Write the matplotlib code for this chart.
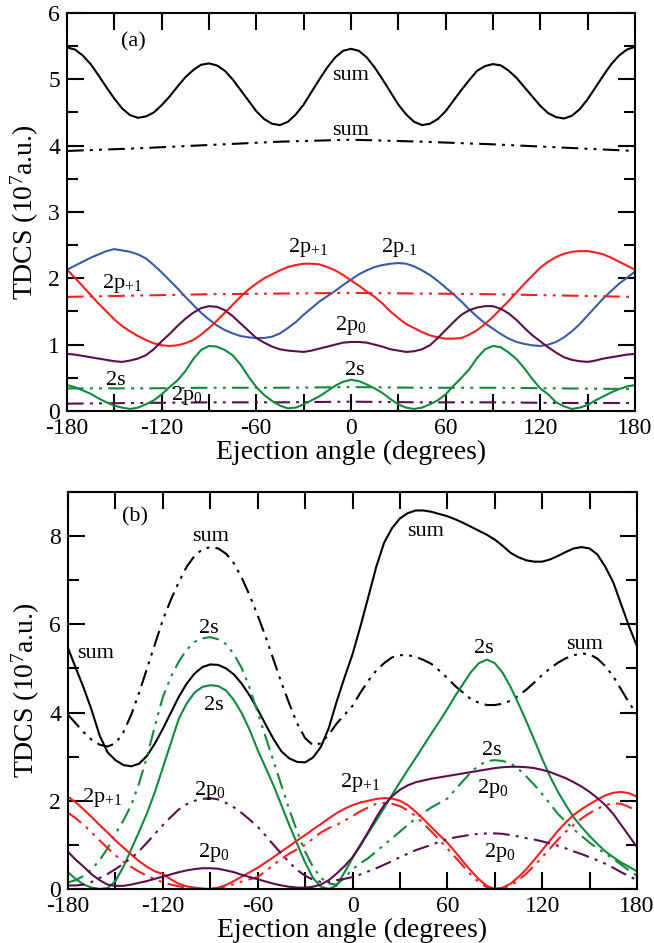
import matplotlib
matplotlib.use("Agg")
import matplotlib.pyplot as plt
from matplotlib.ticker import MultipleLocator

plt.rcParams["font.family"] = "Liberation Serif"
plt.rcParams["mathtext.fontset"] = "custom"
plt.rcParams["mathtext.rm"] = "Liberation Serif"
plt.rcParams["mathtext.it"] = "Liberation Serif:italic"
plt.rcParams["axes.unicode_minus"] = False

# ejection angle grid (degrees), every 5 deg; rows below are 30 deg each
ANGLE = list(range(-180, 181, 5))
FLAT_ANGLE = [-180, -135, -90, -45, 0, 45, 90, 135, 180]

# ---- panel (a) ----
a_sum = [5.48, 5.45, 5.36, 5.23, 5.06, 4.88,
         4.71, 4.56, 4.46, 4.42, 4.44, 4.50,
         4.61, 4.74, 4.89, 5.03, 5.14, 5.22,
         5.24, 5.21, 5.13, 5.00, 4.84, 4.68,
         4.52, 4.40, 4.33, 4.31, 4.36, 4.47,
         4.62, 4.81, 5.00, 5.18, 5.33, 5.43,
         5.46, 5.43, 5.33, 5.18, 5.00, 4.81,
         4.62, 4.47, 4.36, 4.31, 4.33, 4.40,
         4.52, 4.68, 4.84, 4.99, 5.13, 5.20,
         5.23, 5.21, 5.13, 5.02, 4.88, 4.74,
         4.60, 4.49, 4.43, 4.41, 4.45, 4.55,
         4.70, 4.88, 5.06, 5.23, 5.36, 5.45,
         5.49]
a_p_m1 = [2.13, 2.19, 2.25, 2.31, 2.36, 2.41,
          2.44, 2.42, 2.40, 2.36, 2.30, 2.20,
          2.09, 1.97, 1.85, 1.72, 1.60, 1.48,
          1.38, 1.29, 1.22, 1.17, 1.13, 1.11,
          1.10, 1.10, 1.12, 1.17, 1.25, 1.34,
          1.45, 1.55, 1.65, 1.73, 1.81, 1.90,
          1.98, 2.06, 2.12, 2.17, 2.20, 2.22,
          2.23, 2.22, 2.18, 2.12, 2.05, 1.96,
          1.86, 1.76, 1.65, 1.53, 1.42, 1.32,
          1.24, 1.16, 1.09, 1.04, 1.01, 0.99,
          0.98, 1.00, 1.04, 1.11, 1.20, 1.31,
          1.44, 1.57, 1.70, 1.81, 1.92, 2.01,
          2.10]
a_p_p1 = [2.13, 2.01, 1.88, 1.75, 1.62, 1.50,
          1.38, 1.28, 1.20, 1.13, 1.07, 1.02,
          0.99, 0.98, 0.99, 1.02, 1.07, 1.15,
          1.25, 1.36, 1.48, 1.60, 1.72, 1.83,
          1.92, 2.00, 2.06, 2.12, 2.17, 2.20,
          2.22, 2.22, 2.21, 2.17, 2.12, 2.05,
          1.97, 1.89, 1.80, 1.72, 1.62, 1.50,
          1.40, 1.31, 1.25, 1.19, 1.14, 1.11,
          1.09, 1.09, 1.10, 1.15, 1.22, 1.31,
          1.42, 1.54, 1.66, 1.79, 1.92, 2.04,
          2.16, 2.25, 2.32, 2.37, 2.40, 2.41,
          2.41, 2.39, 2.36, 2.31, 2.25, 2.19,
          2.13]
a_p0 = [0.86, 0.85, 0.83, 0.81, 0.79, 0.77,
        0.75, 0.74, 0.76, 0.79, 0.84, 0.93,
        1.05, 1.16, 1.28, 1.39, 1.48, 1.55,
        1.58, 1.57, 1.52, 1.43, 1.32, 1.21,
        1.10, 1.03, 0.97, 0.93, 0.91, 0.90,
        0.89, 0.91, 0.94, 0.97, 1.00, 1.03,
        1.04, 1.04, 1.03, 1.00, 0.97, 0.93,
        0.91, 0.89, 0.90, 0.93, 0.99, 1.10,
        1.22, 1.34, 1.45, 1.52, 1.56, 1.58,
        1.58, 1.54, 1.47, 1.37, 1.25, 1.14,
        1.05, 0.96, 0.88, 0.81, 0.77, 0.75,
        0.74, 0.76, 0.79, 0.81, 0.83, 0.85,
        0.86]
a_2s = [0.39, 0.36, 0.31, 0.26, 0.19, 0.13,
        0.08, 0.05, 0.03, 0.05, 0.10, 0.16,
        0.25, 0.36, 0.46, 0.60, 0.78, 0.92,
        0.98, 0.97, 0.92, 0.84, 0.70, 0.52,
        0.36, 0.24, 0.15, 0.08, 0.04, 0.05,
        0.10, 0.16, 0.22, 0.30, 0.38, 0.44,
        0.47, 0.45, 0.40, 0.34, 0.27, 0.18,
        0.10, 0.05, 0.03, 0.05, 0.10, 0.16,
        0.25, 0.38, 0.50, 0.63, 0.80, 0.93,
        0.98, 0.96, 0.88, 0.78, 0.64, 0.48,
        0.34, 0.25, 0.13, 0.07, 0.03, 0.05,
        0.09, 0.16, 0.22, 0.28, 0.33, 0.37,
        0.39]
a_sum_dd = [3.92, 3.96, 4.01, 4.06, 4.09, 4.06, 4.02, 3.97, 3.92]
a_p1_dd = [1.72, 1.74, 1.76, 1.77, 1.78, 1.77, 1.76, 1.74, 1.72]
a_2s_dd = [0.34, 0.34, 0.35, 0.35, 0.36, 0.35, 0.35, 0.34, 0.33]
a_p0_dd = [0.11, 0.12, 0.13, 0.13, 0.14, 0.13, 0.13, 0.12, 0.12]

# ---- panel (b) ----
b_sum = [5.46, 5.00, 4.55, 4.05, 3.48, 3.10,
         2.92, 2.81, 2.78, 2.84, 3.02, 3.30,
         3.63, 3.99, 4.35, 4.65, 4.88, 5.03,
         5.09, 5.08, 5.00, 4.86, 4.65, 4.38,
         4.07, 3.73, 3.40, 3.12, 2.96, 2.88,
         2.87, 2.98, 3.22, 3.65, 4.25, 4.80,
         5.32, 5.95, 6.62, 7.30, 7.85, 8.18,
         8.40, 8.52, 8.58, 8.58, 8.55, 8.50,
         8.45, 8.38, 8.30, 8.21, 8.12, 8.03,
         7.92, 7.78, 7.62, 7.52, 7.45, 7.42,
         7.42, 7.47, 7.55, 7.64, 7.72, 7.75,
         7.72, 7.58, 7.30, 6.95, 6.45, 5.95,
         5.50]
b_sum_dd = [3.95, 3.75, 3.55, 3.38, 3.27, 3.23,
            3.30, 3.55, 3.95, 4.45, 5.00, 5.55,
            6.10, 6.55, 6.95, 7.30, 7.55, 7.70,
            7.75, 7.72, 7.60, 7.38, 7.05, 6.65,
            6.20, 5.72, 5.20, 4.68, 4.20, 3.75,
            3.42, 3.26, 3.30, 3.50, 3.75, 3.95,
            4.15, 4.45, 4.72, 4.95, 5.12, 5.25,
            5.30, 5.30, 5.26, 5.19, 5.10, 4.95,
            4.78, 4.60, 4.45, 4.30, 4.22, 4.17,
            4.17, 4.20, 4.27, 4.38, 4.52, 4.68,
            4.85, 5.00, 5.13, 5.23, 5.30, 5.34,
            5.32, 5.22, 5.05, 4.82, 4.52, 4.22,
            3.95]
b_2s = [0.38, 0.22, 0.10, 0.03, 0.00, 0.02,
        0.18, 0.50, 0.90, 1.30, 1.72, 2.20,
        2.75, 3.30, 3.85, 4.20, 4.45, 4.58,
        4.62, 4.60, 4.50, 4.28, 3.98, 3.60,
        3.15, 2.75, 2.35, 1.90, 1.45, 1.02,
        0.60, 0.25, 0.05, 0.00, 0.08, 0.38,
        0.70, 0.98, 1.27, 1.55, 1.84, 2.13,
        2.42, 2.70, 2.97, 3.25, 3.53, 3.80,
        4.08, 4.38, 4.65, 4.92, 5.12, 5.20,
        5.12, 4.90, 4.58, 4.20, 3.80, 3.38,
        2.95, 2.55, 2.20, 1.90, 1.62, 1.40,
        1.20, 1.02, 0.85, 0.72, 0.60, 0.50,
        0.40]
b_2s_dd = [0.15, 0.20, 0.30, 0.45, 0.65, 0.92,
           1.25, 1.55, 1.90, 2.40, 3.00, 3.70,
           4.35, 4.80, 5.15, 5.42, 5.60, 5.68,
           5.71, 5.66, 5.55, 5.32, 5.00, 4.55,
           4.00, 3.45, 2.90, 2.35, 1.80, 1.30,
           0.85, 0.50, 0.25, 0.12, 0.10, 0.25,
           0.45, 0.58, 0.70, 0.85, 1.00, 1.15,
           1.30, 1.45, 1.60, 1.73, 1.85, 1.95,
           2.05, 2.25, 2.45, 2.65, 2.80, 2.90,
           2.92, 2.90, 2.85, 2.72, 2.55, 2.36,
           2.15, 1.93, 1.70, 1.52, 1.35, 1.20,
           1.05, 0.92, 0.80, 0.68, 0.55, 0.42,
           0.30]
b_p1 = [2.09, 1.96, 1.80, 1.63, 1.45, 1.28,
        1.10, 0.94, 0.78, 0.63, 0.50, 0.40,
        0.34, 0.22, 0.12, 0.06, 0.03, 0.01,
        0.00, 0.03, 0.09, 0.18, 0.28, 0.38,
        0.48, 0.60, 0.72, 0.85, 0.97, 1.10,
        1.22, 1.35, 1.47, 1.60, 1.72, 1.82,
        1.90, 1.96, 2.00, 2.04, 2.06, 2.05,
        2.00, 1.90, 1.75, 1.58, 1.40, 1.22,
        1.05, 0.84, 0.62, 0.41, 0.22, 0.07,
        0.00, 0.03, 0.12, 0.27, 0.45, 0.66,
        0.88, 1.10, 1.32, 1.51, 1.68, 1.81,
        1.92, 2.03, 2.12, 2.18, 2.20, 2.17,
        2.09]
b_p1_dd = [1.73, 1.60, 1.45, 1.28, 1.10, 0.93,
           0.76, 0.62, 0.50, 0.39, 0.30, 0.22,
           0.15, 0.10, 0.06, 0.03, 0.01, 0.00,
           0.00, 0.02, 0.06, 0.11, 0.17, 0.22,
           0.27, 0.40, 0.55, 0.68, 0.80, 0.90,
           1.00, 1.14, 1.28, 1.38, 1.45, 1.55,
           1.65, 1.76, 1.85, 1.93, 1.95, 1.93,
           1.88, 1.78, 1.65, 1.48, 1.30, 1.11,
           0.92, 0.72, 0.52, 0.32, 0.15, 0.04,
           0.00, 0.02, 0.08, 0.20, 0.35, 0.53,
           0.72, 0.92, 1.12, 1.30, 1.45, 1.60,
           1.72, 1.82, 1.90, 1.94, 1.93, 1.86,
           1.75]
b_p0 = [0.84, 0.66, 0.50, 0.33, 0.20, 0.10,
        0.07, 0.07, 0.10, 0.14, 0.18, 0.23,
        0.28, 0.33, 0.38, 0.42, 0.45, 0.47,
        0.47, 0.46, 0.42, 0.38, 0.32, 0.27,
        0.22, 0.17, 0.12, 0.08, 0.05, 0.03,
        0.03, 0.05, 0.10, 0.20, 0.35, 0.52,
        0.72, 1.00, 1.30, 1.62, 1.90, 2.10,
        2.25, 2.35, 2.42, 2.46, 2.50, 2.53,
        2.56, 2.59, 2.62, 2.65, 2.68, 2.71,
        2.74, 2.76, 2.77, 2.77, 2.76, 2.74,
        2.70, 2.65, 2.58, 2.51, 2.42, 2.32,
        2.20, 2.06, 1.90, 1.70, 1.45, 1.20,
        0.95]
b_p0_dd = [0.08, 0.08, 0.10, 0.16, 0.25, 0.34,
           0.45, 0.57, 0.70, 0.86, 1.05, 1.25,
           1.45, 1.63, 1.80, 1.92, 2.00, 2.04,
           2.06, 2.03, 1.95, 1.85, 1.72, 1.57,
           1.41, 1.21, 1.00, 0.80, 0.60, 0.43,
           0.30, 0.21, 0.16, 0.15, 0.20, 0.23,
           0.27, 0.33, 0.40, 0.47, 0.55, 0.63,
           0.72, 0.80, 0.88, 0.94, 1.00, 1.07,
           1.13, 1.17, 1.20, 1.23, 1.25, 1.26,
           1.26, 1.25, 1.22, 1.19, 1.15, 1.12,
           1.08, 1.03, 0.98, 0.92, 0.85, 0.79,
           0.72, 0.65, 0.57, 0.48, 0.38, 0.29,
           0.20]

BLACK, RED, BLUE, GREEN, PURPLE = "black", "#f2201e", "#3b5ba8", "#12893c", "#5a0f4c"
DD = (0, (8, 3, 1.4, 3, 1.4, 3))   # dash-dot-dot
LW = 1.5
FS = 16
P_PLUS = r"2p$_{+1}$"
P_MINUS = "2p$_{\u20101}$"       # hyphen, not a minus sign
P_ZERO = r"2p$_{0}$"


def style_axes(ax, ymax, ymajor, yminor):
    ax.set_xlim(-180, 180)
    ax.set_ylim(0, ymax)
    ax.xaxis.set_major_locator(MultipleLocator(60))
    ax.xaxis.set_minor_locator(MultipleLocator(30))
    ax.yaxis.set_major_locator(MultipleLocator(ymajor))
    ax.yaxis.set_minor_locator(MultipleLocator(yminor))
    ax.tick_params(which="both", direction="in", top=True, right=True, width=1.5,
                   labelsize=17)
    ax.tick_params(axis="x", which="both", length=12, pad=5)
    ax.tick_params(axis="y", which="major", length=12, pad=5)
    ax.tick_params(axis="y", which="minor", length=8)
    for sp in ax.spines.values():
        sp.set_linewidth(1.5)
    ax.set_xlabel("Ejection angle (degrees)", fontsize=20, labelpad=1)
    ax.set_ylabel(r"TDCS (10$^{7}$a.u.)", fontsize=20)
    ax.yaxis.set_label_coords(-0.045, 0.5)


fig = plt.figure(figsize=(6.54, 9.43), dpi=100)
ax1 = fig.add_axes([0.1024, 0.5642, 0.8685, 0.4220])
ax2 = fig.add_axes([0.1040, 0.0573, 0.8700, 0.4210])

# panel (a)
ax1.plot(ANGLE, a_sum, color=BLACK, lw=LW)
ax1.plot(FLAT_ANGLE, a_sum_dd, color=BLACK, lw=LW, ls=DD)
ax1.plot(ANGLE, a_p_m1, color=BLUE, lw=LW)
ax1.plot(ANGLE, a_p_p1, color=RED, lw=LW)
ax1.plot(FLAT_ANGLE, a_p1_dd, color=RED, lw=LW, ls=DD)
ax1.plot(ANGLE, a_p0, color=PURPLE, lw=LW)
ax1.plot(FLAT_ANGLE, a_p0_dd, color=PURPLE, lw=LW, ls=DD)
ax1.plot(ANGLE, a_2s, color=GREEN, lw=LW)
ax1.plot(FLAT_ANGLE, a_2s_dd, color=GREEN, lw=LW, ls=DD)
style_axes(ax1, 6, 1, 0.5)

ax1.text(-146, 5.5, "(a)", fontsize=FS)
ax1.text(0, 4.99, "sum", fontsize=FS, ha="center")
ax1.text(0, 4.16, "sum", fontsize=FS, ha="center")
ax1.text(-158, 1.86, P_PLUS, fontsize=FS)
ax1.text(-40, 2.40, P_PLUS, fontsize=FS)
ax1.text(19, 2.40, P_MINUS, fontsize=FS)
ax1.text(-10, 1.22, P_ZERO, fontsize=FS)
ax1.text(-4, 0.54, "2s", fontsize=FS)
ax1.text(-155, 0.39, "2s", fontsize=FS)
ax1.text(-114, 0.17, P_ZERO, fontsize=FS)

# panel (b)
ax2.plot(ANGLE, b_sum, color=BLACK, lw=LW)
ax2.plot(ANGLE, b_sum_dd, color=BLACK, lw=LW, ls=DD)
ax2.plot(ANGLE, b_2s, color=GREEN, lw=LW)
ax2.plot(ANGLE, b_2s_dd, color=GREEN, lw=LW, ls=DD)
ax2.plot(ANGLE, b_p1, color=RED, lw=LW)
ax2.plot(ANGLE, b_p1_dd, color=RED, lw=LW, ls=DD)
ax2.plot(ANGLE, b_p0, color=PURPLE, lw=LW)
ax2.plot(ANGLE, b_p0_dd, color=PURPLE, lw=LW, ls=DD)
style_axes(ax2, 9, 2, 1)

ax2.text(-146, 8.32, "(b)", fontsize=FS)
ax2.text(-89.5, 7.89, "sum", fontsize=FS, ha="center")
ax2.text(-174, 5.24, "sum", fontsize=FS)
ax2.text(-91, 5.8, "2s", fontsize=FS, ha="center")
ax2.text(-87.6, 4.06, "2s", fontsize=FS, ha="center")
ax2.text(-171, 1.97, P_PLUS, fontsize=FS)
ax2.text(-100, 2.13, P_ZERO, fontsize=FS)
ax2.text(-98, 0.73, P_ZERO, fontsize=FS)
ax2.text(46.5, 8.0, "sum", fontsize=FS, ha="center")
ax2.text(83, 5.35, "2s", fontsize=FS, ha="center")
ax2.text(147, 5.44, "sum", fontsize=FS, ha="center")
ax2.text(-8, 2.31, P_PLUS, fontsize=FS)
ax2.text(88, 3.04, "2s", fontsize=FS, ha="center")
ax2.text(79, 2.18, P_ZERO, fontsize=FS)
ax2.text(83, 0.73, P_ZERO, fontsize=FS)

fig.savefig("out.png", dpi=100)
